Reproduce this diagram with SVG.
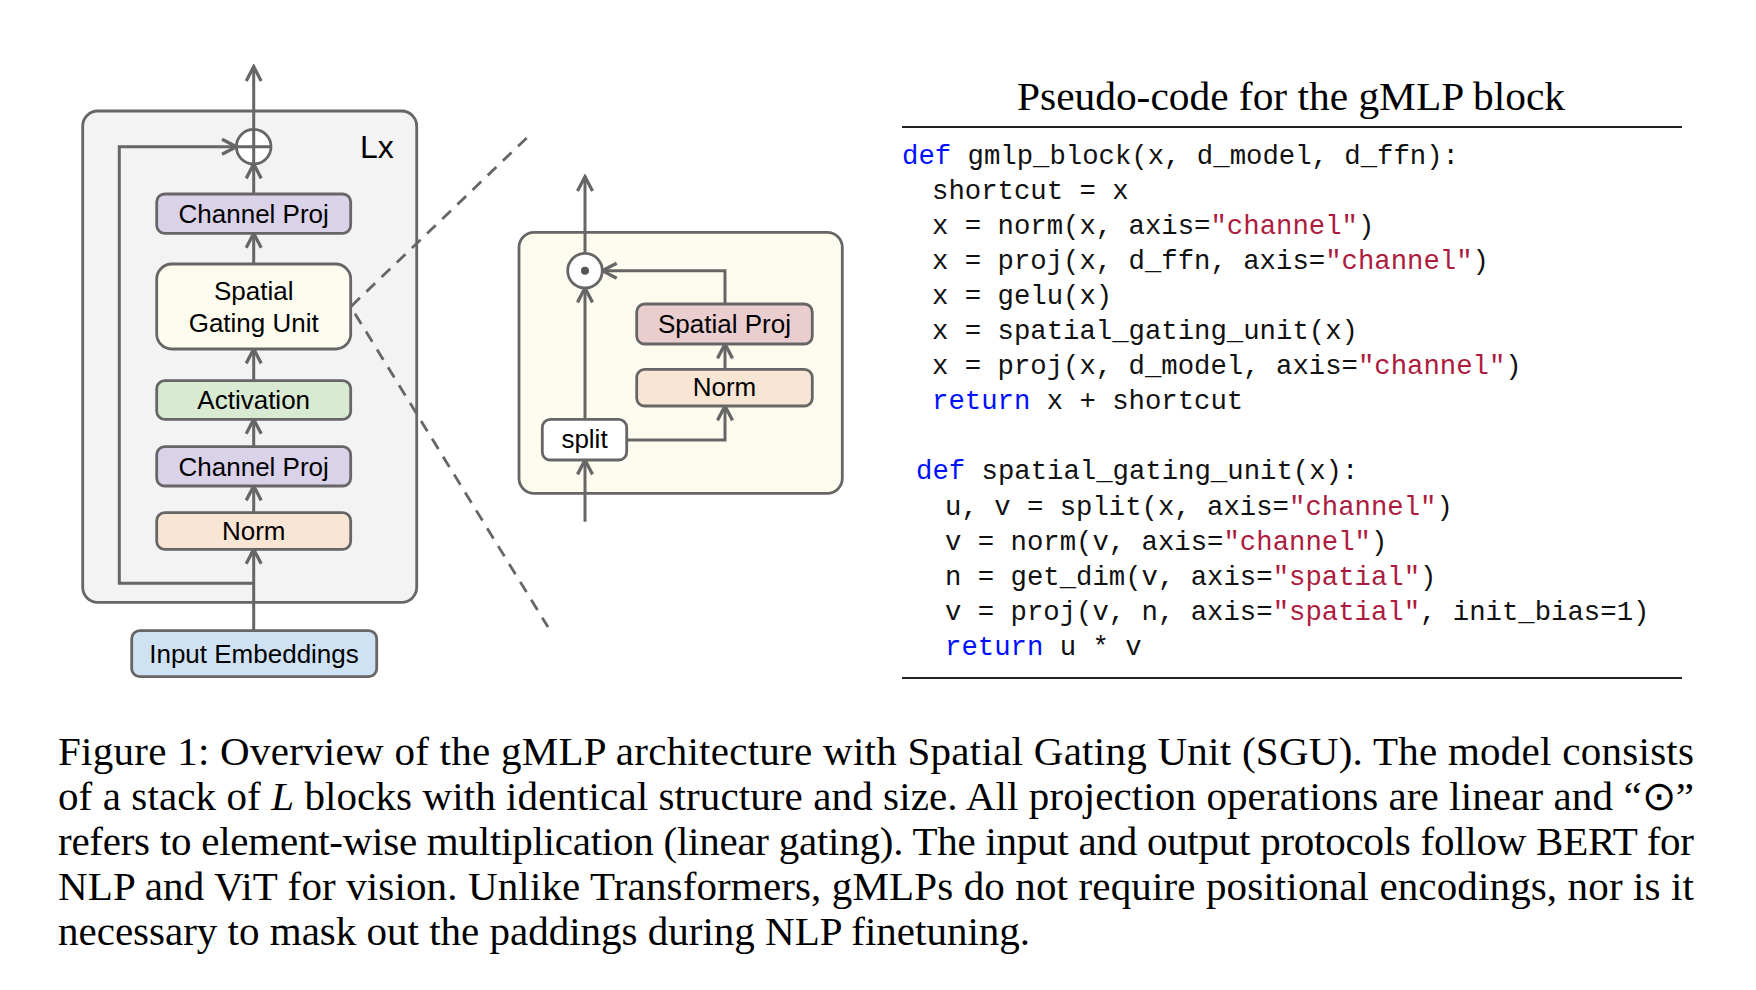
<svg xmlns="http://www.w3.org/2000/svg" width="1756" height="990" viewBox="0 0 1756 990">
<style>
  .bx{stroke:#666;stroke-width:2.8}
  .lbl{font-family:"Liberation Sans",Arial,sans-serif;font-size:26px;fill:#000;text-anchor:middle}
  .ln{fill:none;stroke:#666;stroke-width:3}
  .ar{fill:none;stroke:#666;stroke-width:3;marker-end:url(#arr)}
  .dash{fill:none;stroke:#666;stroke-width:2.8;stroke-dasharray:12 9}
  .code{font-family:"Liberation Mono","DejaVu Sans Mono",monospace;font-size:27.3px;fill:#111}
  .kw{fill:#0010ff}
  .st{fill:#ad1c3e}
  .cap{font-family:"Liberation Serif","Times New Roman",serif;font-size:41px;fill:#000}
</style>
<defs>
  <marker id="arr" markerUnits="userSpaceOnUse" markerWidth="20" markerHeight="20" refX="0" refY="0" viewBox="-14 -8 16 16" orient="auto">
    <path d="M-11.5,-6 L0,0 L-11.5,6" fill="none" stroke="#666" stroke-width="2.6" stroke-linejoin="miter"/>
  </marker>
</defs>
<rect width="1756" height="990" fill="#fff"/>

<!-- containers -->
<g id="block">
  <rect class="bx" x="82.7" y="111" width="334" height="491.3" rx="15" fill="#f3f3f3"/>
  <text x="360" y="158" font-family="Liberation Sans,Arial,sans-serif" font-size="32" fill="#000">Lx</text>
</g>
<g id="sgu-detail">
  <rect class="bx" x="519" y="232.3" width="323.3" height="261" rx="15" fill="#fefcef"/>
</g>

<g id="dashed">
  <path class="dash" d="M526.7,138 L350.7,306.7 L548,627"/>
</g>

<g id="connectors">
  <line class="ar" x1="253.7" y1="630.7" x2="253.7" y2="549.3"/>
  <path class="ar" d="M253.7,583.3 H119.3 V146.7 H236.4"/>
  <line class="ar" x1="253.7" y1="512.7" x2="253.7" y2="486"/>
  <line class="ar" x1="253.7" y1="446.7" x2="253.7" y2="419.3"/>
  <line class="ar" x1="253.7" y1="380.7" x2="253.7" y2="349"/>
  <line class="ar" x1="253.7" y1="264" x2="253.7" y2="233.3"/>
  <line class="ar" x1="253.7" y1="194" x2="253.7" y2="164"/>
  <line class="ar" x1="253.7" y1="129.4" x2="253.7" y2="66.7"/>
  <line class="ar" x1="585" y1="253.4" x2="585" y2="176.7"/>
  <line class="ar" x1="585" y1="521.7" x2="585" y2="460"/>
  <line class="ar" x1="585" y1="419.3" x2="585" y2="288"/>
  <path class="ar" d="M626.7,440 H725 V406"/>
  <line class="ar" x1="725" y1="369.3" x2="725" y2="344"/>
  <path class="ar" d="M725,304 V270.7 H602.3"/>
</g>

<g id="add">
  <circle class="bx" cx="253.7" cy="146.7" r="17.3" fill="#fff"/>
  <path class="ln" d="M253.7,129.4 V164 M236.4,146.7 H271"/>
</g>
<g id="channel-proj-2">
  <rect class="bx" x="156.7" y="194" width="194" height="39.3" rx="8" fill="#d9d2e9"/>
  <text class="lbl" x="253.7" y="223">Channel Proj</text>
</g>
<g id="sgu">
  <rect class="bx" x="156.7" y="264" width="194" height="85" rx="15" fill="#fefcef"/>
  <text class="lbl" x="253.7" y="300">Spatial</text>
  <text class="lbl" x="253.7" y="331.7">Gating Unit</text>
</g>
<g id="activation">
  <rect class="bx" x="156.7" y="380.7" width="194" height="38.6" rx="8" fill="#d9ead3"/>
  <text class="lbl" x="253.7" y="409">Activation</text>
</g>
<g id="channel-proj-1">
  <rect class="bx" x="156.7" y="446.7" width="194" height="39.3" rx="8" fill="#d9d2e9"/>
  <text class="lbl" x="253.7" y="476">Channel Proj</text>
</g>
<g id="norm">
  <rect class="bx" x="156.7" y="512.7" width="194" height="36.6" rx="8" fill="#f9e5d3"/>
  <text class="lbl" x="253.7" y="540">Norm</text>
</g>
<g id="input">
  <rect class="bx" x="131.7" y="630.7" width="245" height="46" rx="8" fill="#cfe2f3"/>
  <text class="lbl" x="254" y="663">Input Embeddings</text>
</g>

<g id="mult">
  <circle class="bx" cx="585" cy="270.7" r="17.3" fill="#fff"/>
  <circle cx="585" cy="270.7" r="4" fill="#555"/>
</g>
<g id="split">
  <rect class="bx" x="542.3" y="419.3" width="84.4" height="40.7" rx="8" fill="#fff"/>
  <text class="lbl" x="584.5" y="448">split</text>
</g>
<g id="sgu-norm">
  <rect class="bx" x="636.7" y="369.3" width="175.6" height="36.7" rx="8" fill="#f9e5d3"/>
  <text class="lbl" x="724.5" y="396">Norm</text>
</g>
<g id="spatial-proj">
  <rect class="bx" x="636.7" y="304" width="175.6" height="40" rx="8" fill="#eacdcf"/>
  <text class="lbl" x="724.5" y="333">Spatial Proj</text>
</g>

<!-- pseudo-code -->
<g id="pseudocode">
  <text class="cap" x="1017" y="110" textLength="548" lengthAdjust="spacingAndGlyphs">Pseudo-code for the gMLP block</text>
  <line x1="902" y1="127" x2="1682" y2="127" stroke="#222" stroke-width="2.2"/>
  <line x1="902" y1="678" x2="1682" y2="678" stroke="#222" stroke-width="2.2"/>
  <g class="code" xml:space="preserve">
    <text x="902" y="163.5"><tspan class="kw">def</tspan> gmlp_block(x, d_model, d_ffn):</text>
    <text x="932" y="198.6">shortcut = x</text>
    <text x="932" y="233.7">x = norm(x, axis=<tspan class="st">"channel"</tspan>)</text>
    <text x="932" y="268.8">x = proj(x, d_ffn, axis=<tspan class="st">"channel"</tspan>)</text>
    <text x="932" y="303.9">x = gelu(x)</text>
    <text x="932" y="339">x = spatial_gating_unit(x)</text>
    <text x="932" y="374.1">x = proj(x, d_model, axis=<tspan class="st">"channel"</tspan>)</text>
    <text x="932" y="409.2"><tspan class="kw">return</tspan> x + shortcut</text>
    <text x="916" y="479.4"><tspan class="kw">def</tspan> spatial_gating_unit(x):</text>
    <text x="945" y="514.5">u, v = split(x, axis=<tspan class="st">"channel"</tspan>)</text>
    <text x="945" y="549.6">v = norm(v, axis=<tspan class="st">"channel"</tspan>)</text>
    <text x="945" y="584.7">n = get_dim(v, axis=<tspan class="st">"spatial"</tspan>)</text>
    <text x="945" y="619.8">v = proj(v, n, axis=<tspan class="st">"spatial"</tspan>, init_bias=1)</text>
    <text x="945" y="654.9"><tspan class="kw">return</tspan> u * v</text>
  </g>
</g>

<!-- caption -->
<g id="caption" class="cap">
  <text x="58" y="765" textLength="1636" lengthAdjust="spacing">Figure 1: Overview of the gMLP architecture with Spatial Gating Unit (SGU). The model consists</text>
  <text x="58" y="810" textLength="1636" lengthAdjust="spacing">of a stack of <tspan font-style="italic">L</tspan> blocks with identical structure and size. All projection operations are linear and “⊙”</text>
  <text x="58" y="855" textLength="1636" lengthAdjust="spacing">refers to element-wise multiplication (linear gating). The input and output protocols follow BERT for</text>
  <text x="58" y="900" textLength="1636" lengthAdjust="spacing">NLP and ViT for vision. Unlike Transformers, gMLPs do not require positional encodings, nor is it</text>
  <text x="58" y="945">necessary to mask out the paddings during NLP finetuning.</text>
</g>
</svg>
